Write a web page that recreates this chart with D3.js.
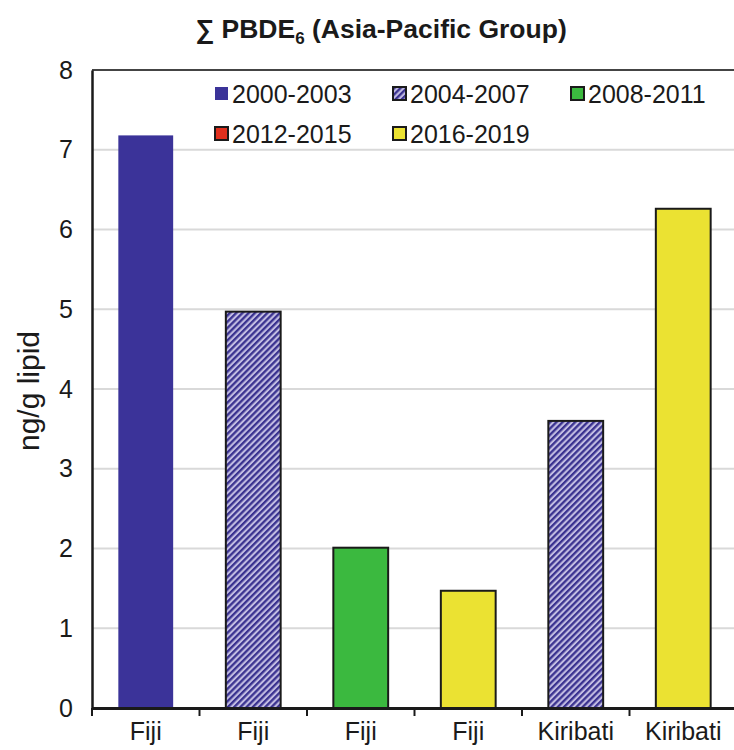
<!DOCTYPE html>
<html><head><meta charset="utf-8">
<script src="https://cdn.jsdelivr.net/npm/d3@7"></script>
<style>body{margin:0;background:#fff}svg{display:block;font-family:"Liberation Sans",Arial,sans-serif}</style>
</head><body><svg id="c" width="734" height="750"></svg>
<script>
const categories = ["Fiji","Fiji","Fiji","Fiji","Kiribati","Kiribati"];
const periods = ["2000-2003","2004-2007","2008-2011","2016-2019","2004-2007","2016-2019"];
const values = [7.18, 4.97, 2.01, 1.47, 3.60, 6.26];
const legendLabels = ["2000-2003","2004-2007","2008-2011","2012-2015","2016-2019"];
const yTicks = [0,1,2,3,4,5,6,7,8];

const svg = d3.select("#c");
const m = {l:92, r:-3, t:70, b:42};
const W = 734, H = 750;
const x = d3.scaleBand().domain(d3.range(categories.length)).range([m.l, W - m.r]).paddingInner(0.49).paddingOuter(0.245);
const xb = d3.scaleBand().domain(d3.range(categories.length)).range([m.l, W - m.r]);
const y = d3.scaleLinear().domain([0,8]).range([H - m.b, m.t]);

const defs = svg.append("defs");
const pat = defs.append("pattern").attr("id","hatch").attr("patternUnits","userSpaceOnUse")
  .attr("width",4.4).attr("height",4.4).attr("patternTransform","rotate(45)");
pat.append("rect").attr("width",4.4).attr("height",4.4).attr("fill","#c2bce2");
pat.append("rect").attr("width",2.3).attr("height",4.4).attr("fill","#3a3290");

const fills = {"2000-2003":"#3b3399","2004-2007":"url(#hatch)","2008-2011":"#3bb93f","2012-2015":"#e0301e","2016-2019":"#ebe232"};
const FONT = "Liberation Sans, Arial, sans-serif";

// gridlines
svg.append("g").selectAll("line").data(yTicks.filter(d=>d>0&&d<8)).join("line")
  .attr("x1",m.l).attr("x2",W).attr("y1",d=>y(d)).attr("y2",d=>y(d))
  .attr("stroke","#d9d9d9").attr("stroke-width",2);
// top border
svg.append("line").attr("x1",m.l).attr("x2",W).attr("y1",y(8)).attr("y2",y(8)).attr("stroke","#444").attr("stroke-width",2);

// bars
svg.append("g").selectAll("rect").data(values).join("rect")
  .attr("x",(d,i)=>x(i)).attr("width",x.bandwidth())
  .attr("y",d=>y(d)).attr("height",d=>y(0)-y(d))
  .attr("fill",(d,i)=>fills[periods[i]])
  .attr("stroke",(d,i)=>periods[i]==="2000-2003"?"none":"#1a1a1a")
  .attr("stroke-width",2);

// y axis
const ya = svg.append("g").attr("transform",`translate(${m.l},0)`)
  .call(d3.axisLeft(y).tickValues(yTicks).tickSize(0).tickPadding(19).tickFormat(d3.format("d")));
ya.select(".domain").attr("stroke","#1a1a1a").attr("stroke-width",2.5);
ya.selectAll("text").attr("font-size",25).attr("fill","#1a1a1a").attr("font-family",FONT);

// x axis
const xa = svg.append("g").attr("transform",`translate(0,${y(0)})`)
  .call(d3.axisBottom(xb).tickSize(0).tickFormat(i=>categories[i]).tickPadding(14));
xa.select(".domain").attr("stroke","#1a1a1a").attr("stroke-width",3);
xa.selectAll("text").attr("font-size",25).attr("fill","#1a1a1a").attr("font-family",FONT);
svg.append("g").selectAll("line").data(d3.range(categories.length+1)).join("line")
  .attr("x1",i=>m.l+i*xb.step()).attr("x2",i=>m.l+i*xb.step())
  .attr("y1",y(0)).attr("y2",y(0)+8).attr("stroke","#1a1a1a").attr("stroke-width",2);

// y label
svg.append("text").attr("transform",`translate(39,${(y(0)+y(8))/2 + 2}) rotate(-90)`)
  .attr("text-anchor","middle").attr("font-size",30).attr("fill","#1a1a1a").text("ng/g lipid");

// title
const t = svg.append("text").attr("x",381).attr("y",38).attr("text-anchor","middle")
  .attr("font-size",26.5).attr("font-weight","bold").attr("fill","#1a1a1a");
t.append("tspan").text("∑ PBDE");
t.append("tspan").attr("font-size",17).attr("dy",6).text("6");
t.append("tspan").attr("dy",-6).text(" (Asia-Pacific Group)");

// legend
const lx = [215, 393, 571], ly = [94, 134];
const lg = svg.append("g").selectAll("g").data(legendLabels).join("g")
  .attr("transform",(d,i)=>`translate(${lx[i%3]},${ly[Math.floor(i/3)]})`);
lg.append("rect").attr("x",0).attr("y",-7).attr("width",13).attr("height",13)
  .attr("fill",d=>fills[d]).attr("stroke",d=>d==="2000-2003"?"none":"#1a1a1a").attr("stroke-width",2);
lg.append("text").attr("x",17).attr("y",9).attr("font-size",25).attr("fill","#1a1a1a").text(d=>d);
</script></body></html>
